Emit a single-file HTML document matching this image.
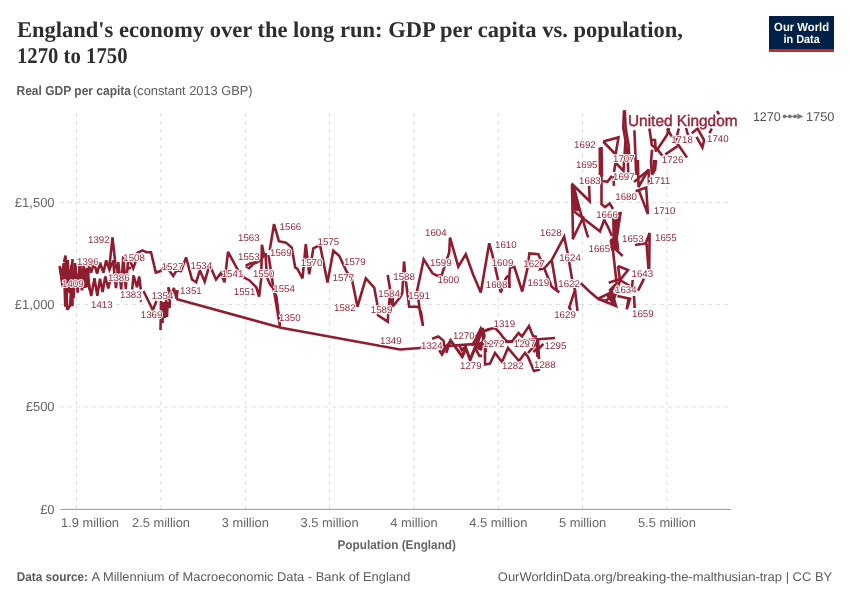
<!DOCTYPE html>
<html><head><meta charset="utf-8"><title>England's economy over the long run: GDP per capita vs. population, 1270 to 1750</title>
<style>
html,body{margin:0;padding:0;background:#fff;}
svg{display:block;will-change:transform;text-rendering:geometricPrecision;}
.t{font-family:"Liberation Serif","Times New Roman",serif;font-weight:bold;fill:#2e2e2e;}
.s{font-family:"Liberation Sans", Arial, sans-serif;}
.lb text{font-family:"Liberation Sans", Arial, sans-serif;font-size:9.8px;fill:#94283a;stroke:#fff;stroke-width:2.2px;paint-order:stroke;stroke-linejoin:round;}
</style></head><body>
<svg width="850" height="600" viewBox="0 0 850 600">
<rect width="850" height="600" fill="#fff"/>

<text class="t" x="17" y="37.2" font-size="22.5" textLength="666" lengthAdjust="spacingAndGlyphs">England's economy over the long run: GDP per capita vs. population,</text>
<text class="t" x="17" y="63" font-size="22.5" textLength="110.5" lengthAdjust="spacingAndGlyphs">1270 to 1750</text>
<text class="s" x="16.5" y="95.4" font-size="13" fill="#5b5b5b"><tspan font-weight="bold" textLength="114.5" lengthAdjust="spacingAndGlyphs">Real GDP per capita</tspan><tspan x="133" textLength="119.5" lengthAdjust="spacingAndGlyphs">(constant 2013 GBP)</tspan></text>
<rect x="769" y="16" width="65" height="36" fill="#002147"/><rect x="769" y="49" width="65" height="3" fill="#ce261e"/>
<text class="s" x="801.6" y="30.7" font-size="11.8" font-weight="bold" fill="#fff" text-anchor="middle" textLength="55" lengthAdjust="spacingAndGlyphs">Our World</text>
<text class="s" x="801.6" y="42.5" font-size="11.8" font-weight="bold" fill="#fff" text-anchor="middle" textLength="36.3" lengthAdjust="spacingAndGlyphs">in Data</text>
<g stroke="#dddddd" stroke-width="1" stroke-dasharray="4,4"><line x1="60" y1="202.5" x2="731" y2="202.5"/><line x1="60" y1="304.6" x2="731" y2="304.6"/><line x1="60" y1="406.9" x2="731" y2="406.9"/><line x1="76.5" y1="113" x2="76.5" y2="509"/><line x1="160.9" y1="113" x2="160.9" y2="509"/><line x1="245.3" y1="113" x2="245.3" y2="509"/><line x1="329.6" y1="113" x2="329.6" y2="509"/><line x1="414" y1="113" x2="414" y2="509"/><line x1="498.3" y1="113" x2="498.3" y2="509"/><line x1="582.6" y1="113" x2="582.6" y2="509"/><line x1="666.9" y1="113" x2="666.9" y2="509"/></g>
<line x1="60.5" y1="509.4" x2="731" y2="509.4" stroke="#999" stroke-width="1"/>
<text class="s" x="54.6" y="206.9" font-size="13" fill="#666" text-anchor="end">£1,500</text>
<text class="s" x="54.6" y="309.1" font-size="13" fill="#666" text-anchor="end">£1,000</text>
<text class="s" x="54.6" y="411.4" font-size="13" fill="#666" text-anchor="end">£500</text>
<text class="s" x="54.6" y="513.7" font-size="13" fill="#666" text-anchor="end">£0</text>
<text class="s" x="61" y="527.4" font-size="12.9" fill="#666" text-anchor="start">1.9 million</text>
<text class="s" x="161" y="527.4" font-size="12.9" fill="#666" text-anchor="middle">2.5 million</text>
<text class="s" x="245.3" y="527.4" font-size="12.9" fill="#666" text-anchor="middle">3 million</text>
<text class="s" x="329.6" y="527.4" font-size="12.9" fill="#666" text-anchor="middle">3.5 million</text>
<text class="s" x="414" y="527.4" font-size="12.9" fill="#666" text-anchor="middle">4 million</text>
<text class="s" x="498.3" y="527.4" font-size="12.9" fill="#666" text-anchor="middle">4.5 million</text>
<text class="s" x="582.6" y="527.4" font-size="12.9" fill="#666" text-anchor="middle">5 million</text>
<text class="s" x="666.9" y="527.4" font-size="12.9" fill="#666" text-anchor="middle">5.5 million</text>
<text class="s" x="337.5" y="548.5" font-size="12.6" font-weight="bold" fill="#666" textLength="118.5" lengthAdjust="spacingAndGlyphs">Population (England)</text>
<text class="s" x="16.8" y="580.7" font-size="12.6" fill="#5b5b5b"><tspan font-weight="bold" textLength="71.2" lengthAdjust="spacingAndGlyphs">Data source:</tspan><tspan x="91.5" textLength="318.8" lengthAdjust="spacingAndGlyphs">A Millennium of Macroeconomic Data - Bank of England</tspan></text>
<text class="s" x="832.2" y="580.9" font-size="12.6" fill="#5b5b5b" text-anchor="end" textLength="334.4" lengthAdjust="spacingAndGlyphs">OurWorldinData.org/breaking-the-malthusian-trap | CC BY</text>
<text class="s" x="752.9" y="121.4" font-size="12.7" fill="#555" textLength="27.9" lengthAdjust="spacingAndGlyphs">1270</text>
<g fill="#777"><circle cx="784.6" cy="116.4" r="1.9"/><circle cx="789.8" cy="116.4" r="1.9"/><circle cx="795" cy="116.4" r="1.9"/><path d="M797.4,113.6 L803.4,116.4 L797.4,119.2 Z"/><rect x="784" y="115.9" width="14" height="1"/></g>
<text class="s" x="806" y="121.4" font-size="12.7" fill="#555" textLength="28.5" lengthAdjust="spacingAndGlyphs">1750</text>
<g fill="none" stroke="#8f1d30" stroke-width="2.6" stroke-linejoin="miter" stroke-miterlimit="3" stroke-linecap="butt">
<path d="M555.0,338.0 L400.0,349.5 L281.0,327.8 L176.3,299.0"/>
<path d="M432.0,338.8 L438.4,336.5 L443.4,340.6 L444.4,346.0 L441.6,354.4 L446.0,347.0 L450.8,340.6 L461.8,356.2 L466.0,348.0 L470.0,359.4 L475.5,346.0 L481.0,328.7 L483.0,332.0 L488.4,329.2 L495.0,328.0 L500.0,333.0 L503.5,338.0 L507.5,342.0 L512.0,341.5 L518.5,333.0 L522.0,336.5 L529.0,326.0 L533.0,336.0 L537.0,337.0"/>
<path d="M439.2,350.2 L442.0,354.5 L446.2,346.7"/>
<path d="M446.2,353.0 L450.5,340.3 L462.5,356.6 L466.0,348.8 L470.2,360.1 L475.2,348.1 L479.4,355.9 L482.2,355.9"/>
<path d="M459.6,346.0 L461.8,350.2 L466.0,346.0"/>
<path d="M472.0,346.0 L480.5,329.0 L483.0,329.0 L484.5,336.0 L481.0,349.0 L476.0,347.5 L482.0,331.0 L483.5,340.0 L478.0,348.0"/>
<path d="M482.2,331.9 L490.0,329.0"/>
<path d="M485.0,347.5 L485.0,364.5 L490.0,363.6 L495.0,353.0 L502.0,362.0 L508.0,348.0 L519.0,361.0 L525.0,353.0 L528.0,357.0 L534.0,371.0 L540.0,369.5"/>
<path d="M538.0,340.0 L539.0,359.0 L537.5,350.0 L543.4,343.9"/>
<path d="M536.5,340.0 L537.5,357.0"/>
<path d="M528.0,353.0 L533.3,347.0 L536.8,340.5"/>
<path d="M533.3,352.0 L540.0,346.0"/>
<path d="M476.0,335.0 L480.0,350.0 L484.0,340.0 L486.0,352.0"/>
<path d="M132.2,289.5 L133.5,275.4 L137.0,287.3 L139.2,276.5 L140.8,289.5"/>
<path d="M140.3,300.5 L141.5,301.5"/>
<path d="M143.5,291.0 L152.8,310.0 L156.5,300.9"/>
<path d="M160.5,330.0 L161.0,301.0 L162.5,323.0 L163.5,302.0 L165.0,318.0 L166.0,300.0 L167.0,317.0 L167.5,302.0 L169.5,308.0 L170.0,299.0"/>
<path d="M168.5,300.0 L168.5,287.3 L171.0,297.0 L173.9,288.0 L176.6,298.7"/>
<path d="M177.5,290.0 L176.6,298.7"/>
<path d="M59.5,265.9 L61.6,276.8 L63.8,263.0 L65.3,306.8 L67.8,260.1 L69.5,293.1 L71.5,264.7 L73.6,298.1 L75.2,263.1 L77.7,292.7 L80.0,263.4 L81.6,289.4 L83.7,264.4 L85.2,287.9 L87.3,267.8 L89.7,290.0"/>
<path d="M60.0,267.7 L62.7,287.2 L65.6,268.4 L68.5,291.8 L70.9,269.7 L73.5,286.6 L75.4,266.8 L77.5,288.7 L80.0,264.1 L82.0,290.3 L84.9,268.6 L86.9,287.2 L88.9,267.7"/>
<path d="M88.0,263.4 L91.1,272.6 L94.0,262.9 L97.1,273.6 L100.1,262.7 L103.4,272.6 L106.2,260.4 L109.5,269.6 L112.1,262.5"/>
<path d="M88.0,279.8 L91.2,296.0 L94.5,278.3 L97.3,295.7 L100.0,278.8 L102.6,292.0 L105.3,276.4 L108.3,288.5 L111.4,274.4"/>
<path d="M113.0,260.2 L116.0,288.2 L118.3,262.1 L121.2,289.4 L123.3,256.2 L125.8,289.0 L128.1,260.0"/>
<path d="M109.0,270.0 L112.5,237.5 L115.4,264.0 L117.0,270.0"/>
<path d="M127.6,268.8 L131.0,267.6"/>
<path d="M64.0,262.0 L65.5,255.5 L67.2,309.7 L70.2,305.6 L72.5,259.0 L72.5,306.2"/>
<path d="M127.0,262.0 L134.0,256.0 L137.9,252.5 L142.6,250.4 L146.4,252.2 L151.0,252.2 L155.8,272.5 L160.5,271.0 L165.9,266.0 L173.2,276.0 L176.5,270.5 L181.0,271.0 L186.1,257.4 L192.0,279.5 L196.2,282.3 L199.8,270.3 L204.7,281.6 L208.3,268.8 L211.0,268.0 L216.0,279.5 L221.0,273.0 L224.5,282.3 L228.0,251.8 L238.0,270.3 L243.5,277.3 L249.2,280.2 L256.3,287.3 L259.1,296.5 L261.2,278.8 L261.9,244.8 L264.0,254.7 L267.0,254.0"/>
<path d="M129.5,259.5 L133.2,268.2 L136.5,259.5"/>
<path d="M245.6,266.0 L250.6,263.2 L258.4,261.8 L253.4,263.9 L249.2,268.1 L245.6,266.0"/>
<path d="M258.4,261.8 L265.5,254.0"/>
<path d="M265.5,254.0 L266.9,277.3 L270.4,285.1 L273.0,288.0"/>
<path d="M268.5,255.0 L273.0,285.0 L280.0,326.5 L276.5,297.0 L273.0,288.0"/>
<path d="M269.7,250.4 L274.0,224.2 L278.9,241.2 L286.0,242.6 L291.7,247.6 L295.2,267.4 L297.4,268.8 L302.5,278.3 L305.8,244.2 L309.2,274.2 L313.3,248.3 L320.0,245.0 L327.5,282.5 L333.3,250.8 L339.2,255.8 L346.7,271.7 L351.7,278.3 L357.5,306.7 L365.8,278.3 L374.2,287.5 L377.4,304.8 L378.0,315.3 L387.7,321.7 L388.5,310.0 L389.7,297.7 L389.8,287.5 L387.7,275.0 L390.5,292.0 L392.3,305.7 L393.1,306.0 L400.1,297.3 L402.3,292.9 L404.0,261.5 L406.0,282.0 L409.2,306.7 L417.5,306.7 L419.0,308.0 L421.0,312.0 L423.0,326.0 L420.0,312.0 L418.5,300.0 L417.0,291.3 L423.7,259.3 L432.5,273.3 L437.5,275.8 L441.7,275.0 L449.2,252.5 L450.0,237.5 L458.3,266.7 L465.8,254.2 L473.3,275.0 L480.8,292.5 L489.2,243.3 L492.5,255.0 L500.8,292.5 L505.8,278.3 L507.4,276.2 L509.0,276.2 L509.5,288.0 L509.3,276.0 L510.1,267.5 L514.4,267.0 L522.2,291.5 L527.4,268.6 L529.4,253.4 L538.3,254.2 L541.7,262.0 L540.0,269.2 L544.2,268.3 L551.7,260.0 L564.2,236.7 L568.0,255.0 L572.5,281.7 L575.0,290.0 L569.2,307.5 L571.0,310.0"/>
<path d="M575.0,290.0 L577.5,310.8"/>
<path d="M392.3,305.7 L393.0,297.7"/>
<path d="M551.7,260.0 L556.7,290.0 L559.2,292.5 L551.7,286.7 L544.2,268.3"/>
<path d="M580.8,283.3 L590.0,292.0 L598.0,298.7 L612.0,292.0 L616.0,306.0 L598.0,298.7"/>
<path d="M598.0,298.7 L606.0,301.0 L611.0,296.0 L613.0,303.0"/>
<path d="M608.7,282.7 L620.7,278.7 L612.7,302.7 L608.0,296.0 L616.0,284.0 L610.0,290.0 L614.0,298.0"/>
<path d="M612.7,248.0 L616.7,284.0"/>
<path d="M618.0,266.0 L628.0,270.0 L620.0,280.0 L618.0,266.0"/>
<path d="M620.0,280.0 L630.0,286.0"/>
<path d="M617.3,296.0 L630.0,298.7 L626.7,309.3 L628.7,298.0"/>
<path d="M634.0,296.0 L634.7,308.0"/>
<path d="M632.7,280.0 L632.0,288.0"/>
<path d="M635.0,245.0 L645.8,243.3 L649.6,233.0 L649.2,269.2"/>
<path d="M646.5,243.3 L648.5,269.0"/>
<path d="M644.0,278.7 L638.0,290.7"/>
<path d="M612.0,240.0 L613.0,248.0"/>
<path d="M611.0,245.0 L622.7,256.0"/>
<path d="M571.5,183.5 L589.7,201.2 L589.1,185.9"/>
<path d="M572.0,185.0 L573.0,238.0"/>
<path d="M572.5,239.4 L583.8,216.3"/>
<path d="M573.0,186.0 L580.6,212.5 L588.1,237.5"/>
<path d="M573.8,211.3 L600.0,231.3 L604.2,220.0 L608.0,227.0 L612.0,236.0"/>
<path d="M601.5,170.0 L601.5,204.1 L605.0,207.0 L609.7,203.5 L613.0,209.0"/>
<path d="M603.0,181.0 L607.4,181.8 L612.0,175.9"/>
<path d="M613.8,176.0 L613.8,185.9"/>
<path d="M635.6,191.2 L646.2,187.6 L647.9,214.1 L638.5,189.4"/>
<path d="M634.0,182.0 L648.5,170.0"/>
<path d="M637.9,160.0 L638.5,187.0 L648.5,169.4 L649.0,184.7"/>
<path d="M656.0,160.0 L655.0,170.0 L651.5,174.7"/>
<path d="M624.0,110.3 L623.3,128.0 L626.2,145.0 L627.8,160.0 L628.3,175.0"/>
<path d="M624.8,110.3 L625.6,128.0 L628.6,145.0 L629.5,160.0"/>
<path d="M634.4,130.3 L636.2,175.0"/>
<path d="M603.2,141.5 L618.5,137.4 L615.6,154.4 L603.2,141.5"/>
<path d="M599.7,147.4 L600.0,175.0"/>
<path d="M601.5,147.0 L602.0,176.0"/>
<path d="M614.0,172.0 L615.5,162.5 L623.5,171.0 L625.5,140.0"/>
<path d="M649.4,128.5 L651.8,145.0 L657.6,149.7 L662.4,155.6"/>
<path d="M652.0,149.7 L651.0,162.0 L651.8,174.1"/>
<path d="M655.9,151.8 L655.0,140.0 L651.2,140.0"/>
<path d="M657.0,150.0 L667.0,135.0 L669.0,128.0"/>
<path d="M667.0,128.5 L672.0,137.0 L677.0,143.0 L687.0,157.4"/>
<path d="M665.3,154.4 L677.6,146.2"/>
<path d="M678.8,128.5 L676.0,140.0"/>
<path d="M686.0,128.0 L688.0,135.0"/>
<path d="M691.8,133.2 L697.6,128.5 L704.1,140.3 L702.4,147.4 L696.5,136.8"/>
<path d="M711.8,128.5 L709.5,133.2"/>
<path d="M717.0,111.0 L719.0,114.4"/>
<path d="M653.0,174.4 L654.0,160.0"/>
</g>
<path d="M572.0,186.0 L574.5,186.0 L580.5,211.0 L573.5,210.0 Z" fill="#8f1d30" stroke="#8f1d30" stroke-width="1"/>
<path d="M612.5,214.0 L621.5,212.0 L617.5,238.0 L619.0,250.0 L611.0,250.0 L610.0,240.0 L613.0,238.0 Z" fill="#8f1d30" stroke="#8f1d30" stroke-width="1"/>
<g class="lb">
<text x="88" y="242.5" textLength="21.6" lengthAdjust="spacingAndGlyphs">1392</text>
<text x="77" y="265" textLength="21.6" lengthAdjust="spacingAndGlyphs">1396</text>
<text x="62" y="287" textLength="21.6" lengthAdjust="spacingAndGlyphs">1409</text>
<text x="91" y="308" textLength="21.6" lengthAdjust="spacingAndGlyphs">1413</text>
<text x="108" y="281" textLength="21.6" lengthAdjust="spacingAndGlyphs">1386</text>
<text x="123.3" y="260.8" textLength="21.6" lengthAdjust="spacingAndGlyphs">1508</text>
<text x="120" y="297.5" textLength="21.6" lengthAdjust="spacingAndGlyphs">1383</text>
<text x="140.8" y="318.3" textLength="21.6" lengthAdjust="spacingAndGlyphs">1369</text>
<text x="151.7" y="299.2" textLength="21.6" lengthAdjust="spacingAndGlyphs">1354</text>
<text x="161.7" y="270" textLength="21.6" lengthAdjust="spacingAndGlyphs">1527</text>
<text x="180.1" y="293.5" textLength="21.6" lengthAdjust="spacingAndGlyphs">1351</text>
<text x="190.5" y="268.8" textLength="21.6" lengthAdjust="spacingAndGlyphs">1534</text>
<text x="221.7" y="277.3" textLength="21.6" lengthAdjust="spacingAndGlyphs">1541</text>
<text x="238" y="241.2" textLength="21.6" lengthAdjust="spacingAndGlyphs">1563</text>
<text x="238" y="260.3" textLength="21.6" lengthAdjust="spacingAndGlyphs">1553</text>
<text x="252.9" y="276.6" textLength="21.6" lengthAdjust="spacingAndGlyphs">1550</text>
<text x="233.8" y="295" textLength="21.6" lengthAdjust="spacingAndGlyphs">1551</text>
<text x="270" y="256" textLength="21.6" lengthAdjust="spacingAndGlyphs">1569</text>
<text x="279.6" y="229.9" textLength="21.6" lengthAdjust="spacingAndGlyphs">1566</text>
<text x="273.3" y="292.2" textLength="21.6" lengthAdjust="spacingAndGlyphs">1554</text>
<text x="279" y="320.8" textLength="21.6" lengthAdjust="spacingAndGlyphs">1350</text>
<text x="317.5" y="244.7" textLength="21.6" lengthAdjust="spacingAndGlyphs">1575</text>
<text x="300.8" y="265.8" textLength="21.6" lengthAdjust="spacingAndGlyphs">1570</text>
<text x="344" y="264.5" textLength="21.6" lengthAdjust="spacingAndGlyphs">1579</text>
<text x="332.5" y="280.8" textLength="21.6" lengthAdjust="spacingAndGlyphs">1577</text>
<text x="334" y="311.3" textLength="21.6" lengthAdjust="spacingAndGlyphs">1582</text>
<text x="370.8" y="313.3" textLength="21.6" lengthAdjust="spacingAndGlyphs">1589</text>
<text x="378.3" y="296.7" textLength="21.6" lengthAdjust="spacingAndGlyphs">1584</text>
<text x="393.3" y="279.5" textLength="21.6" lengthAdjust="spacingAndGlyphs">1588</text>
<text x="408.3" y="299.2" textLength="21.6" lengthAdjust="spacingAndGlyphs">1591</text>
<text x="430" y="265.8" textLength="21.6" lengthAdjust="spacingAndGlyphs">1599</text>
<text x="437.5" y="283" textLength="21.6" lengthAdjust="spacingAndGlyphs">1600</text>
<text x="425" y="235.8" textLength="21.6" lengthAdjust="spacingAndGlyphs">1604</text>
<text x="495" y="248.3" textLength="21.6" lengthAdjust="spacingAndGlyphs">1610</text>
<text x="491.7" y="265.8" textLength="21.6" lengthAdjust="spacingAndGlyphs">1609</text>
<text x="485.8" y="288.3" textLength="21.6" lengthAdjust="spacingAndGlyphs">1608</text>
<text x="523.3" y="266.7" textLength="21.6" lengthAdjust="spacingAndGlyphs">1627</text>
<text x="527.5" y="285.8" textLength="21.6" lengthAdjust="spacingAndGlyphs">1619</text>
<text x="540" y="235.8" textLength="21.6" lengthAdjust="spacingAndGlyphs">1628</text>
<text x="559.2" y="261.3" textLength="21.6" lengthAdjust="spacingAndGlyphs">1624</text>
<text x="558.3" y="286.7" textLength="21.6" lengthAdjust="spacingAndGlyphs">1622</text>
<text x="554.2" y="317.5" textLength="21.6" lengthAdjust="spacingAndGlyphs">1629</text>
<text x="588.5" y="251.5" textLength="21.6" lengthAdjust="spacingAndGlyphs">1665</text>
<text x="622" y="241.5" textLength="21.6" lengthAdjust="spacingAndGlyphs">1653</text>
<text x="655" y="240.9" textLength="21.6" lengthAdjust="spacingAndGlyphs">1655</text>
<text x="631.5" y="277.4" textLength="21.6" lengthAdjust="spacingAndGlyphs">1643</text>
<text x="615" y="293.2" textLength="21.6" lengthAdjust="spacingAndGlyphs">1634</text>
<text x="632" y="316.8" textLength="21.6" lengthAdjust="spacingAndGlyphs">1659</text>
<text x="596.2" y="218.2" textLength="21.6" lengthAdjust="spacingAndGlyphs">1666</text>
<text x="579.1" y="184.1" textLength="21.6" lengthAdjust="spacingAndGlyphs">1683</text>
<text x="615.3" y="200" textLength="21.6" lengthAdjust="spacingAndGlyphs">1680</text>
<text x="653.8" y="214.1" textLength="21.6" lengthAdjust="spacingAndGlyphs">1710</text>
<text x="648.8" y="183.5" textLength="21.6" lengthAdjust="spacingAndGlyphs">1711</text>
<text x="613" y="180" textLength="21.6" lengthAdjust="spacingAndGlyphs">1697</text>
<text x="613" y="161.8" textLength="21.6" lengthAdjust="spacingAndGlyphs">1707</text>
<text x="661.8" y="163" textLength="21.6" lengthAdjust="spacingAndGlyphs">1726</text>
<text x="574.1" y="148.2" textLength="21.6" lengthAdjust="spacingAndGlyphs">1692</text>
<text x="575.9" y="168" textLength="21.6" lengthAdjust="spacingAndGlyphs">1695</text>
<text x="671.2" y="143.2" textLength="21.6" lengthAdjust="spacingAndGlyphs">1718</text>
<text x="707" y="142" textLength="21.6" lengthAdjust="spacingAndGlyphs">1740</text>
<text x="493.5" y="326.8" textLength="21.6" lengthAdjust="spacingAndGlyphs">1319</text>
<text x="453" y="339" textLength="21.6" lengthAdjust="spacingAndGlyphs">1270</text>
<text x="421" y="348.8" textLength="21.6" lengthAdjust="spacingAndGlyphs">1324</text>
<text x="483" y="347" textLength="21.6" lengthAdjust="spacingAndGlyphs">1272</text>
<text x="513.8" y="347" textLength="21.6" lengthAdjust="spacingAndGlyphs">1297</text>
<text x="544.7" y="348.8" textLength="21.6" lengthAdjust="spacingAndGlyphs">1295</text>
<text x="460" y="369" textLength="21.6" lengthAdjust="spacingAndGlyphs">1279</text>
<text x="502" y="369" textLength="21.6" lengthAdjust="spacingAndGlyphs">1282</text>
<text x="534" y="368" textLength="21.6" lengthAdjust="spacingAndGlyphs">1288</text>
<text x="380" y="343.9" textLength="21.6" lengthAdjust="spacingAndGlyphs">1349</text>
</g>
<text class="s" x="628" y="125.6" font-size="15.6" fill="#fff" stroke="#fff" stroke-width="2.5" textLength="109.6" lengthAdjust="spacingAndGlyphs">United Kingdom</text>
<text class="s" x="628" y="125.6" font-size="15.6" fill="#962638" stroke="#962638" stroke-width="0.45" textLength="109.6" lengthAdjust="spacingAndGlyphs">United Kingdom</text>
</svg></body></html>
